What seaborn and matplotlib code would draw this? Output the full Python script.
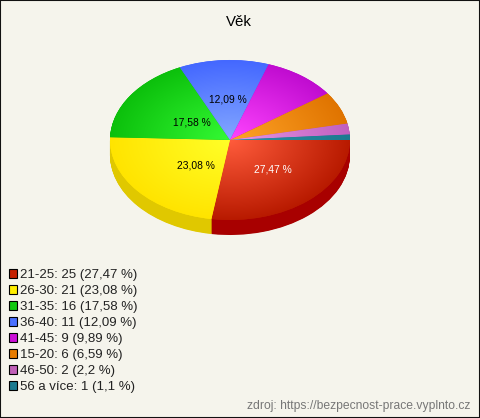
import numpy as np
import matplotlib
matplotlib.use('Agg')
import matplotlib.pyplot as plt
from matplotlib.patches import Patch, Rectangle
import seaborn as sns

# Data
labels = ['21-25', '26-30', '31-35', '36-40', '41-45', '15-20', '46-50', '56 a více']
counts = [25, 21, 16, 11, 9, 6, 2, 1]
percents = ['27,47', '23,08', '17,58', '12,09', '9,89', '6,59', '2,2', '1,1']

# Colours per slice: centre, rim, side wall, legend box
light = ['#ff5c3c', '#ffff28', '#34fa34', '#84a8ff', '#ff44ff', '#ffa428', '#e698e6', '#2f93a8']
dark = ['#b81a00', '#ffe400', '#0cc00c', '#4468ff', '#c00cd0', '#e07400', '#c060c0', '#1a7a90']
wall = ['#a80000', '#e0c800', '#0a9a0a', '#3050c0', '#9000a0', '#b06000', '#9a4a9a', '#105a70']
legend_colors = ['#c42000', '#ffee00', '#10c810', '#4a70ff', '#cc10d8', '#e87c00', '#c060b8', '#1a7a90']

BG = '#f5f4ec'
W, H = 480, 418

sns.set_style('white')
plt.rcParams['font.family'] = ['Liberation Sans', 'DejaVu Sans']

fig = plt.figure(figsize=(W / 100, H / 100), dpi=100, facecolor=BG)

# pie box in pixels, the squash comes from the axes being wider than tall
cx, cy, rx, ry, depth = 230, 140, 120, 80, 15
ax = fig.add_axes([(cx - rx) / W, 1 - (cy + ry + depth + 1) / H, 2 * rx / W, (2 * ry + depth + 1) / H])
ylim = (-1 - (depth + 1) / ry, 1)

# side wall, stacked copies of the pie shifted down
for dy in np.arange(depth, 0, -0.5):
    ax.pie(counts, colors=wall, startangle=0, counterclock=False, radius=1, center=(0, -dy / ry),
           wedgeprops={'linewidth': 0})

wedges, _ = ax.pie(counts, colors=dark, startangle=0, counterclock=False, radius=1, center=(0, 0),
                   wedgeprops={'linewidth': 0})

# radial gradient on each top slice
xx, yy = np.meshgrid(np.linspace(-1, 1, 500), np.linspace(-1, 1, 400))
rr = np.clip(np.hypot(xx, yy), 0, 1)
for w, c0, c1 in zip(wedges, light, dark):
    cmap = sns.blend_palette([c0, c1], as_cmap=True)
    im = ax.imshow(rr, extent=(-1, 1, -1, 1), origin='lower', cmap=cmap, vmin=0, vmax=1,
                   aspect='auto', interpolation='bilinear', zorder=2)
    im.set_clip_path(w)

ax.set_xlim(-1, 1)
ax.set_ylim(*ylim)
ax.set_aspect('auto')
ax.axis('off')
ax.patch.set_alpha(0)

# percent labels on the big slices only
label_pos = [(273, 170, 'white'), (196, 166, 'black'), (192, 123, 'black'), (228, 99, 'black')]
for pct, (px, py, col) in zip(percents, label_pos):
    fig.text(px / W, 1 - py / H, pct + ' %', color=col, fontsize=7.4, ha='center', va='center', zorder=5)

fig.text(239 / W, 1 - 22 / H, 'Věk', fontsize=10.8, color='black', ha='center', va='center')

handles = [Patch(facecolor=c, edgecolor='black', linewidth=0.8) for c in legend_colors]
legend_labels = [f'{l}: {n} ({p} %)' for l, n, p in zip(labels, counts, percents)]
fig.legend(handles, legend_labels, loc='upper left', bbox_to_anchor=(9 / W, 1 - 269 / H), frameon=False,
           fontsize=9.5, handlelength=0.62, handleheight=0.62, handletextpad=0.2, labelspacing=0.305,
           borderpad=0, borderaxespad=0, labelcolor='#222222')

fig.text(470 / W, 1 - 406 / H, 'zdroj: https://bezpecnost-prace.vyplnto.cz', color='#777777',
         fontsize=8.72, ha='right', va='center')

# chart border
fig.add_artist(Rectangle((0, 0), 1, 1, transform=fig.transFigure, fill=False, edgecolor='#111111', linewidth=1.5))

fig.savefig('out.png', dpi=100, facecolor=BG)
